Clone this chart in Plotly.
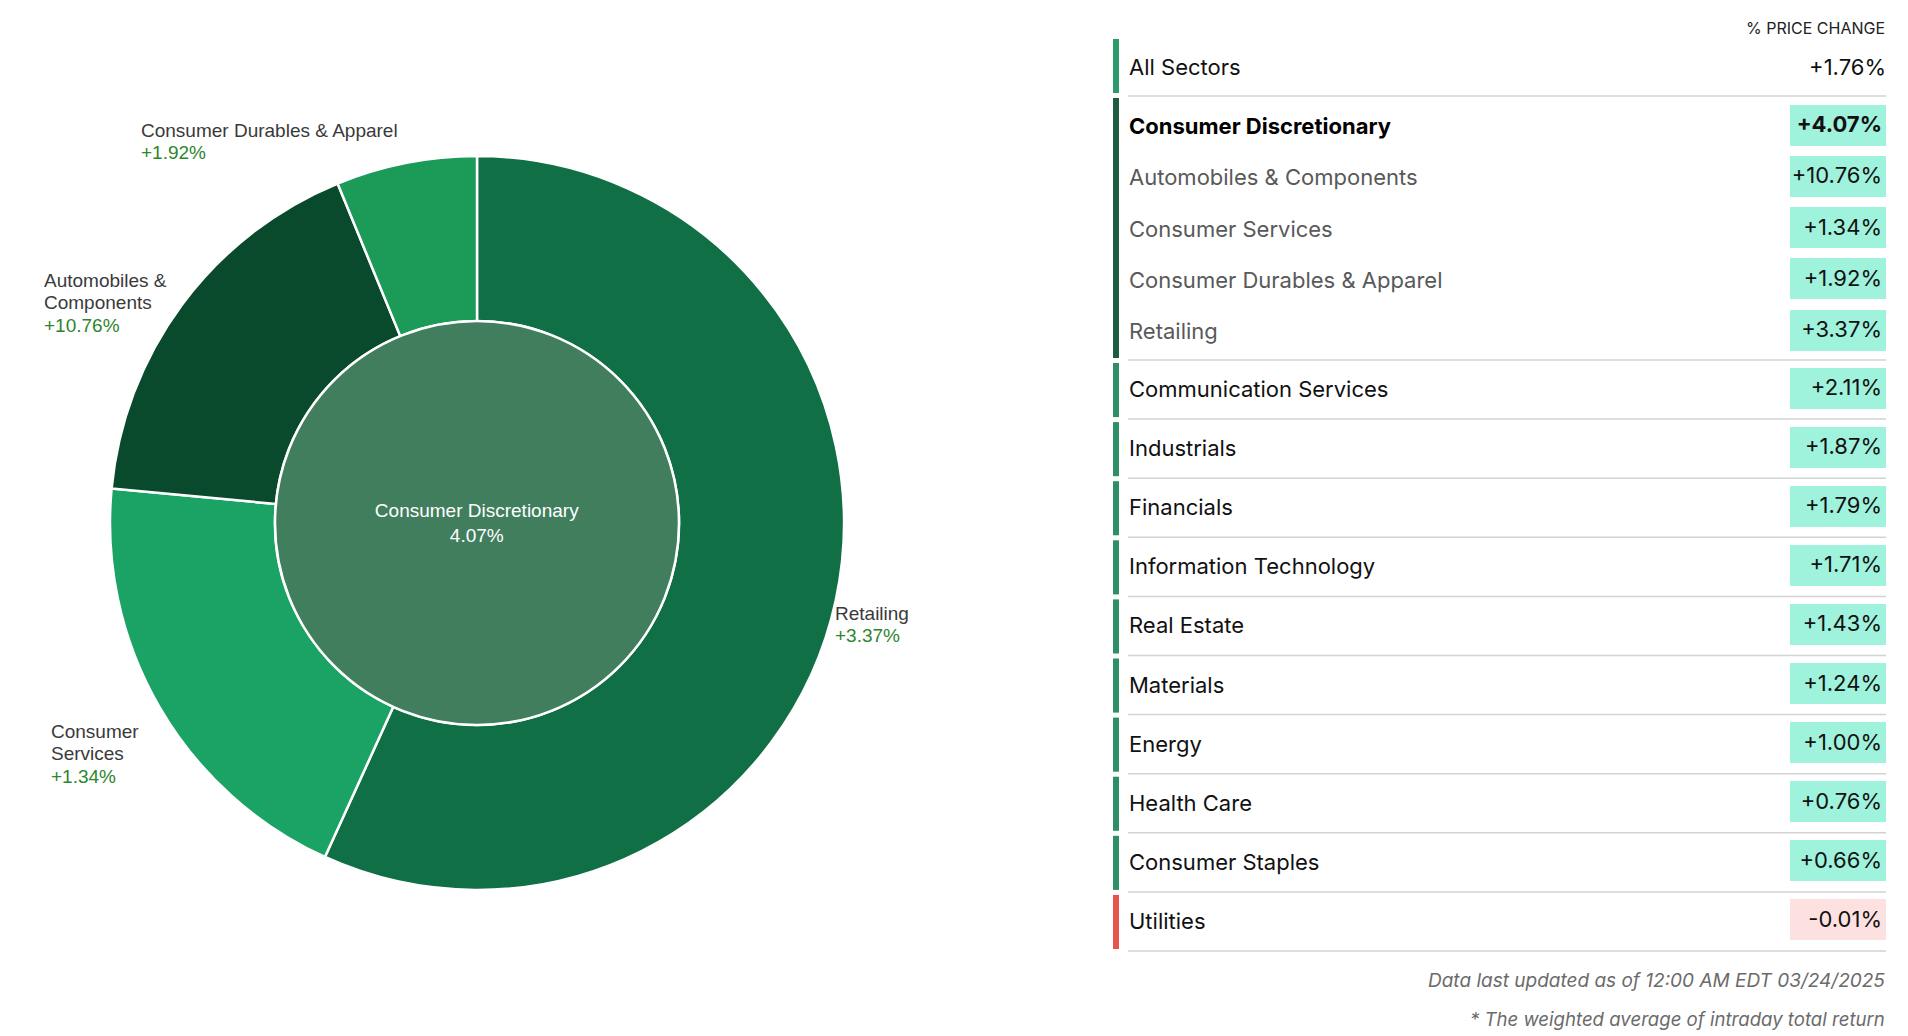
import plotly.graph_objects as go

# page is 1908x1036; the html body adds an 8px margin, so the figure is drawn
# slightly smaller and every page position is shifted by OFF
PAGE_W, PAGE_H, OFF = 1908, 1036, 8
FW, FH = PAGE_W - OFF, PAGE_H - OFF

# ---- donut data (Consumer Discretionary breakdown) ----
parent_name = "Consumer Discretionary"
parent_change = 4.07
industries = ["Retailing", "Consumer Services", "Automobiles & Components",
              "Consumer Durables & Apparel"]
industry_weights = [56.8, 19.7, 17.3, 6.2]
industry_changes = [3.37, 1.34, 10.76, 1.92]
industry_colors = ["#106f44", "#1ba366", "#0a4a2c", "#1b9a58"]

# ---- table data ----
all_label = "All Sectors"
all_change = 1.76
group_rows = ["Automobiles & Components", "Consumer Services",
              "Consumer Durables & Apparel", "Retailing"]
group_changes = [10.76, 1.34, 1.92, 3.37]
sectors = ["Communication Services", "Industrials", "Financials",
           "Information Technology", "Real Estate", "Materials", "Energy",
           "Health Care", "Consumer Staples", "Utilities"]
sector_changes = [2.11, 1.87, 1.79, 1.71, 1.43, 1.24, 1.00, 0.76, 0.66, -0.01]

label_font = "Liberation Sans, Arial, sans-serif"
table_font = "Inter, Liberation Sans, sans-serif"
pct_green = "#2d862d"


def fmt(v):
    return f"{v:+.2f}%"


def dom(c, rad, size, flip=False):
    lo, hi = (c - rad - OFF) / size, (c + rad - OFF) / size
    return [1 - hi, 1 - lo] if flip else [lo, hi]


fig = go.Figure()

# outer ring: industries
cx, cy, R, r = 477, 523, 367, 202
fig.add_trace(go.Pie(
    labels=industries, values=industry_weights,
    sort=False, direction="clockwise", rotation=0,
    hole=r / R, textinfo="none", hoverinfo="label",
    marker=dict(colors=industry_colors, line=dict(color="white", width=2.5)),
    domain=dict(x=dom(cx, R, FW), y=dom(cy, R, FH, flip=True)),
    showlegend=False,
))
# inner disc: parent sector
fig.add_trace(go.Pie(
    labels=[parent_name], values=[1], sort=False,
    text=[f"{parent_name}<br>{parent_change:.2f}%"],
    textinfo="text", textposition="inside", hoverinfo="skip",
    insidetextfont=dict(family=label_font, size=19, color="white"),
    marker=dict(colors=["#417e5e"], line=dict(color="white", width=2.5)),
    domain=dict(x=dom(cx, r, FW), y=dom(cy, r, FH, flip=True)),
    showlegend=False,
))

# outside labels for ring slices (left x, first line y, name lines)
label_pos = {
    "Consumer Durables & Apparel": (139, 130, ["Consumer Durables & Apparel"]),
    "Automobiles & Components": (42, 280, ["Automobiles &", "Components"]),
    "Consumer Services": (49, 731, ["Consumer", "Services"]),
    "Retailing": (833, 613, ["Retailing"]),
}
line_h = 22.7
annotations = []
for name, chg in zip(industries, industry_changes):
    lx, ly, lines = label_pos[name]
    for j, txt in enumerate(lines + [fmt(chg)]):
        annotations.append(dict(
            x=lx, y=ly + j * line_h, xref="x", yref="y",
            xanchor="left", yanchor="middle", showarrow=False, text=txt,
            font=dict(family=label_font, size=19,
                      color=pct_green if j == len(lines) else "#3a3a3a"),
        ))

# ---- table rows ----
name_x, line_x0, line_x1 = 1129, 1128, 1886
bar_x0, bar_x1 = 1113, 1119
box_x0, box_x1 = 1790, 1886
val_x = 1882
sep = dict(color="#d3d3d3", width=1.5)

row_names, row_vals, row_y, row_colors, row_box = [], [], [], [], []
shapes = []

# all sectors row
row_names.append(all_label)
row_vals.append(fmt(all_change))
row_y.append(69)
row_colors.append("#111111")
row_box.append(False)
shapes.append(dict(type="rect", xref="x", yref="y", x0=bar_x0, x1=bar_x1, y0=39, y1=93,
                   fillcolor="#2e9a6c", line_width=0))
shapes.append(dict(type="line", xref="x", yref="y", x0=line_x0, x1=line_x1, y0=96, y1=96,
                   line=sep))

# expanded group
group_pitch = 51.25
row_names.append(f"<b>{parent_name}</b>")
row_vals.append(f"<b>{fmt(parent_change)}</b>")
row_y.append(128.5)
row_colors.append("#000000")
row_box.append(True)
for i, (n, v) in enumerate(zip(group_rows, group_changes)):
    row_names.append(n)
    row_vals.append(fmt(v))
    row_y.append(128.5 + group_pitch * (i + 1))
    row_colors.append("#595959")
    row_box.append(True)
shapes.append(dict(type="rect", xref="x", yref="y", x0=bar_x0, x1=bar_x1, y0=98, y1=358,
                   fillcolor="#1d5c40", line_width=0))
shapes.append(dict(type="line", xref="x", yref="y", x0=line_x0, x1=line_x1, y0=360, y1=360,
                   line=sep))

# other sectors
pitch = 59.1
for k, (n, v) in enumerate(zip(sectors, sector_changes)):
    top = 360 + pitch * k
    row_names.append(n)
    row_vals.append(fmt(v))
    row_y.append(top + 31.5)
    row_colors.append("#111111")
    row_box.append(True)
    shapes.append(dict(type="rect", xref="x", yref="y", x0=bar_x0, x1=bar_x1,
                       y0=top + 3, y1=top + pitch - 2,
                       fillcolor="#2e8f66" if v >= 0 else "#e8534a", line_width=0))
    shapes.append(dict(type="line", xref="x", yref="y", x0=line_x0, x1=line_x1,
                       y0=top + pitch, y1=top + pitch, line=sep))

all_vals = [all_change, parent_change] + group_changes + sector_changes
box_y = [y - 3.5 for y, b in zip(row_y, row_box) if b]
box_colors = ["#9ff2dc" if v >= 0 else "#fde1e1"
              for v, b in zip(all_vals, row_box) if b]

fig.add_trace(go.Bar(
    y=box_y, x=[box_x1 - box_x0] * len(box_y), base=box_x0,
    orientation="h", width=41, marker=dict(color=box_colors, line_width=0),
    hoverinfo="skip", showlegend=False,
))
fig.add_trace(go.Scatter(
    x=[name_x] * len(row_names), y=row_y, mode="text", text=row_names,
    textposition="middle right",
    textfont=dict(family=table_font, size=22, color=row_colors),
    hoverinfo="skip", showlegend=False,
))
fig.add_trace(go.Scatter(
    x=[val_x if b else 1886 for b in row_box],
    y=[y - 2 if b else y for y, b in zip(row_y, row_box)],
    mode="text", text=row_vals, textposition="middle left",
    textfont=dict(family=table_font, size=22, color="#111111"),
    hoverinfo="skip", showlegend=False,
))

annotations.append(dict(x=1887, y=28, xref="x", yref="y", xanchor="right", yanchor="middle",
                        showarrow=False, text="% PRICE CHANGE",
                        font=dict(family=table_font, size=16, color="#222222")))
annotations.append(dict(x=1887, y=980, xref="x", yref="y", xanchor="right", yanchor="middle",
                        showarrow=False, text="<i>Data last updated as of 12:00 AM EDT 03/24/2025</i>",
                        font=dict(family=table_font, size=19, color="#6b6b6b")))
annotations.append(dict(x=1887, y=1019, xref="x", yref="y", xanchor="right", yanchor="middle",
                        showarrow=False, text="<i>* The weighted average of intraday total return</i>",
                        font=dict(family=table_font, size=18.6, color="#6b6b6b")))

fig.update_layout(
    width=FW, height=FH,
    margin=dict(l=0, r=0, t=0, b=0),
    paper_bgcolor="white", plot_bgcolor="rgba(0,0,0,0)",
    xaxis=dict(range=[OFF, OFF + FW], domain=[0, 1], visible=False, fixedrange=True),
    yaxis=dict(range=[OFF + FH, OFF], domain=[0, 1], visible=False, fixedrange=True),
    shapes=shapes, annotations=annotations,
    barmode="overlay", bargap=0,
)

fig.write_html("out.html")
